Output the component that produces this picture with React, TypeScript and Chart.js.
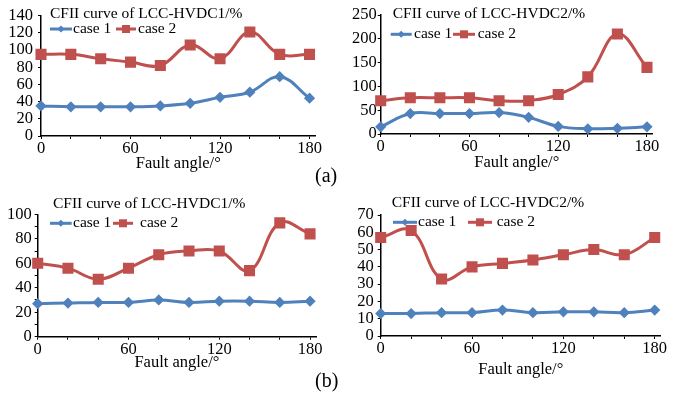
import React, { useEffect, useRef } from "react";
import { Chart, registerables } from "chart.js";

Chart.register(...registerables);

// ---------- data ----------
const ANGLES = [0, 20, 40, 60, 80, 100, 120, 140, 160, 180];
const X_LABELS = [0, 60, 120, 180];
const SERIES_NAMES = ["case 1", "case 2"];
const TITLE_HVDC1 = "CFII curve of LCC-HVDC1/%";
const TITLE_HVDC2 = "CFII curve of LCC-HVDC2/%";
const X_TITLE = "Fault angle/\u00B0";

const A1_CASE1 = [35, 34, 34, 34, 35, 38, 45, 51, 69, 44];
const A1_CASE2 = [95, 95, 90, 86, 82, 106, 90, 121, 95, 95];
const A2_CASE1 = [15, 43, 43, 43, 45, 35, 16, 11, 12, 15];
const A2_CASE2 = [70, 76, 76, 76, 70, 70, 83, 120, 210, 140];
const B1_CASE1 = [27, 27.5, 28, 28, 30, 28, 29, 29, 28, 29];
const B1_CASE2 = [60, 56, 47, 56, 67, 70, 70, 54, 93, 84];
const B2_CASE1 = [13, 13, 13.5, 13.5, 15, 13.5, 14, 14, 13.5, 15];
const B2_CASE2 = [57, 61, 33, 40, 42, 44, 47, 50, 47, 57];

// ---------- styles ----------
const FONT = '"Liberation Serif", "Times New Roman", serif';
const BLUE = "#4F81BD";
const RED = "#C0504D";
const X_MAX = 184;
const TICK_SIZE = 16.5;
const TEXT_SIZE = 15.5;

type Panel = {
  left: number; top: number; w: number; h: number;
  axisX: number; plotTop: number; plotBottom: number; plotRight: number;
  titleY: number; yTickPad: number;
  yMax: number; yStep: number; yMajor: number;
  title: string; s1: number[]; s2: number[];
  tX: number; tY: number; legY: number;
  l1: [number, number, number]; l2: [number, number, number];
  tag?: { text: string; x: number; y: number };
};

const PANELS: Panel[] = [
  {
    left: 0, top: 0, w: 340, h: 190,
    axisX: 41, plotTop: 15.7, plotBottom: 136, plotRight: 315.5,
    titleY: 164, yTickPad: 5,
    yMax: 140, yStep: 20, yMajor: 20,
    title: TITLE_HVDC1, s1: A1_CASE1, s2: A1_CASE2,
    tX: 50, tY: 14, legY: 29,
    l1: [50, 72, 73], l2: [116, 136, 138],
    tag: { text: "(a)", x: 315, y: 177 },
  },
  {
    left: 340, top: 0, w: 339, h: 190,
    axisX: 40.7, plotTop: 15, plotBottom: 134, plotRight: 312.9,
    titleY: 163, yTickPad: 1,
    yMax: 250, yStep: 50, yMajor: 50,
    title: TITLE_HVDC2, s1: A2_CASE1, s2: A2_CASE2,
    tX: 52.7, tY: 14, legY: 34.3,
    l1: [50.7, 71.7, 74], l2: [113, 135, 137.7],
  },
  {
    left: 0, top: 190, w: 340, h: 207,
    axisX: 37.7, plotTop: 24.3, plotBottom: 146.7, plotRight: 316.1,
    titleY: 173, yTickPad: 3,
    yMax: 100, yStep: 10, yMajor: 20,
    title: TITLE_HVDC1, s1: B1_CASE1, s2: B1_CASE2,
    tX: 53, tY: 14, legY: 33.3,
    l1: [50, 71.7, 73], l2: [113, 133, 140],
    tag: { text: "(b)", x: 315, y: 192 },
  },
  {
    left: 340, top: 190, w: 339, h: 207,
    axisX: 40.7, plotTop: 25, plotBottom: 146, plotRight: 320.8,
    titleY: 180, yTickPad: 4,
    yMax: 70, yStep: 10, yMajor: 10,
    title: TITLE_HVDC2, s1: B2_CASE1, s2: B2_CASE2,
    tX: 51.7, tY: 13.3, legY: 32.3,
    l1: [53, 77, 78], l2: [128, 152, 156.7],
  },
];

function drawMarker(ctx: CanvasRenderingContext2D, kind: number, x: number, y: number, color: string) {
  ctx.fillStyle = color;
  ctx.beginPath();
  if (kind === 0) {
    const r = 3.5;
    ctx.moveTo(x, y - r);
    ctx.lineTo(x + r, y);
    ctx.lineTo(x, y + r);
    ctx.lineTo(x - r, y);
    ctx.closePath();
  } else {
    const s = 4;
    ctx.rect(x - s, y - s, 2 * s, 2 * s);
  }
  ctx.fill();
}

function PanelChart({ p }: { p: Panel }) {
  const ref = useRef<HTMLCanvasElement | null>(null);
  useEffect(() => {
    if (!ref.current) return;
    const xAxisH = p.titleY - p.plotBottom + TICK_SIZE * 0.6;
    const overlay = {
      id: "overlay",
      afterDraw(chart: any) {
        const ctx: CanvasRenderingContext2D = chart.ctx;
        ctx.save();
        ctx.font = `${TEXT_SIZE}px ${FONT}`;
        ctx.fillStyle = "#000";
        ctx.textBaseline = "middle";
        ctx.textAlign = "left";
        ctx.fillText(p.title, p.tX, p.tY);
        const items = [
          { l: p.l1, color: BLUE, kind: 0, name: SERIES_NAMES[0] },
          { l: p.l2, color: RED, kind: 1, name: SERIES_NAMES[1] },
        ];
        items.forEach((it) => {
          ctx.strokeStyle = it.color;
          ctx.lineWidth = 3;
          ctx.beginPath();
          ctx.moveTo(it.l[0], p.legY);
          ctx.lineTo(it.l[1], p.legY);
          ctx.stroke();
          drawMarker(ctx, it.kind, (it.l[0] + it.l[1]) / 2, p.legY, it.color);
          ctx.fillStyle = "#000";
          ctx.fillText(it.name, it.l[2], p.legY);
        });
        if (p.tag) {
          ctx.font = `20px ${FONT}`;
          ctx.fillText(p.tag.text, p.tag.x, p.tag.y);
        }
        ctx.restore();
      },
    };
    const chart = new Chart(ref.current, {
      type: "line",
      data: {
        datasets: [
          {
            label: SERIES_NAMES[0],
            data: ANGLES.map((a, i) => ({ x: a, y: p.s1[i] })),
            borderColor: BLUE,
            backgroundColor: BLUE,
            borderWidth: 3,
            pointStyle: "rectRot",
            pointRadius: 3.5,
            tension: 0.4,
            clip: false as any,
          },
          {
            label: SERIES_NAMES[1],
            data: ANGLES.map((a, i) => ({ x: a, y: p.s2[i] })),
            borderColor: RED,
            backgroundColor: RED,
            borderWidth: 3,
            pointStyle: "rect",
            pointRadius: 5.7,
            tension: 0.4,
            clip: false as any,
          },
        ],
      },
      options: {
        animation: false,
        responsive: false,
        events: [],
        layout: {
          padding: {
            left: 0,
            top: p.plotTop,
            right: p.w - p.plotRight,
            bottom: p.h - p.plotBottom - xAxisH,
          },
        },
        plugins: {
          legend: { display: false },
          title: { display: false },
          tooltip: { enabled: false },
        },
        scales: {
          x: {
            type: "linear",
            min: 0,
            max: X_MAX,
            afterFit: (s: any) => { s.height = xAxisH; },
            ticks: {
              stepSize: 20,
              includeBounds: false,
              autoSkip: false,
              maxRotation: 0,
              padding: 0,
              color: "#000",
              font: { family: FONT, size: TICK_SIZE },
              callback: (v: any) => (X_LABELS.includes(Number(v)) ? String(v) : ""),
            },
            grid: { drawOnChartArea: false, drawTicks: true, tickLength: 3, color: "#000", lineWidth: 1 },
            border: { display: true, color: "#000", width: 1.5 },
            title: {
              display: true,
              text: X_TITLE,
              color: "#000",
              font: { family: FONT, size: TICK_SIZE },
              padding: { top: 0, bottom: 0 },
            },
          },
          y: {
            min: 0,
            max: p.yMax,
            afterFit: (s: any) => { s.width = p.axisX; },
            ticks: {
              stepSize: p.yStep,
              autoSkip: false,
              padding: p.yTickPad,
              color: "#000",
              font: { family: FONT, size: TICK_SIZE },
              callback: (v: any) => (Number(v) % p.yMajor === 0 ? String(v) : ""),
            },
            grid: { drawOnChartArea: false, drawTicks: true, tickLength: 3, color: "#000", lineWidth: 1 },
            border: { display: true, color: "#000", width: 1.5 },
          },
        },
      },
      plugins: [overlay],
    } as any);
    return () => chart.destroy();
  }, [p]);
  return (
    <canvas
      ref={ref}
      width={p.w}
      height={p.h}
      style={{ position: "absolute", left: p.left, top: p.top, width: p.w, height: p.h }}
    />
  );
}

export default function App() {
  return (
    <div style={{ position: "absolute", left: 0, top: 0, width: 679, height: 397, background: "#fff", overflow: "hidden" }}>
      {PANELS.map((p, i) => (
        <PanelChart key={i} p={p} />
      ))}
    </div>
  );
}
